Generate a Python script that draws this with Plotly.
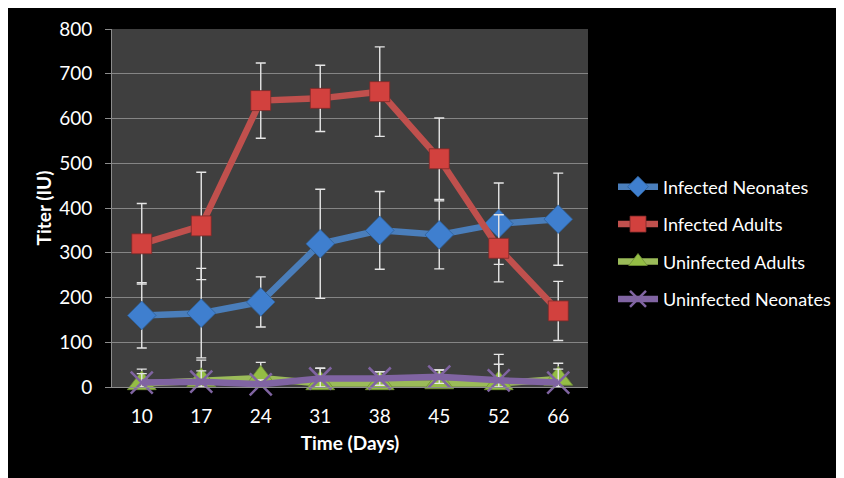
import plotly.graph_objects as go

days = ["10", "17", "24", "31", "38", "45", "52", "66"]

inf_neonates = [160, 165, 190, 320, 350, 340, 365, 375]
inf_neonates_err = [73, 100, 56, 122, 87, 76, 91, 103]

inf_adults = [320, 360, 640, 645, 660, 510, 310, 170]
inf_adults_err = [90, 120, 84, 74, 100, 91, 75, 66]

uninf_adults = [8, 15, 20, 8, 8, 10, 8, 18]
uninf_adults_err = [32, 45, 35, 34, 26, 28, 43, 35]

uninf_neonates = [10, 12, 6, 19, 19, 23, 15, 10]
uninf_neonates_err = [20, 24, 10, 23, 15, 15, 58, 30]

# page is offset by the 8px body margin
W, H = 836, 470
L, R, T, B = 104, 256, 21, 91
pw, ph = W - L - R, H - T - B


def px(xp):
    return (xp - 8 - L) / pw


def py(yp):
    return (H - B - (yp - 8)) / ph


series = [
    ("Infected Neonates", inf_neonates, inf_neonates_err, "#4a7ebb", "#3f7fcf", "diamond", 22, "#2f5f95"),
    ("Infected Adults", inf_adults, inf_adults_err, "#c0504d", "#d2413e", "square", 20, "#7a2a28"),
    ("Uninfected Adults", uninf_adults, uninf_adults_err, "#9bbb59", "#94bd45", "triangle-up", 25, "#6f8f35"),
    ("Uninfected Neonates", uninf_neonates, uninf_neonates_err, "#8064a2", "#8064a2", "x-thin-open", 22, "#8064a2"),
]

fig = go.Figure()
for name, vals, err, lc, mc, sym, size, oc in series:
    minus = [min(e, v) for e, v in zip(err, vals)]
    if sym == "x-thin-open":
        marker = dict(symbol=sym, size=size, color=mc, line=dict(color=mc, width=2.5))
    else:
        marker = dict(symbol=sym, size=size, color=mc, line=dict(color=oc, width=0.8))
    fig.add_trace(go.Scatter(
        x=days, y=vals, name=name, mode="lines+markers",
        line=dict(color=lc, width=6.5),
        marker=marker,
        error_y=dict(type="data", array=err, arrayminus=minus, symmetric=False,
                     color="#e6e6e6", thickness=1.4, width=5),
        legendgroup=name, cliponaxis=False,
    ))

fig.update_layout(
    width=W, height=H,
    margin=dict(l=L, r=R, t=T, b=B, autoexpand=False),
    paper_bgcolor="black",
    plot_bgcolor="#3f3f3f",
    font=dict(family="Lato, Open Sans, sans-serif", color="white", size=19),
    showlegend=True,
    legend=dict(x=px(613), xanchor="left", y=py(243), yanchor="middle",
                font=dict(size=18, color="white"), bgcolor="rgba(0,0,0,0)",
                tracegroupgap=11, itemwidth=40),
    xaxis=dict(type="category", range=[-0.5, len(days) - 0.5], autorange=False,
               showgrid=False, showline=True, linecolor="#8c8c8c",
               linewidth=1, ticks="", ticklabelstandoff=12,
               tickfont=dict(size=19, color="white"),
               title=dict(text="<b>Time (Days)</b>", font=dict(size=19, color="white"), standoff=10)),
    yaxis=dict(range=[0, 800], autorange=False, dtick=100, showgrid=True, gridcolor="#858585", gridwidth=1,
               showline=True, linecolor="#8c8c8c", linewidth=1, ticks="outside",
               ticklen=6, tickcolor="#8c8c8c", zeroline=False, ticklabelstandoff=9,
               tickfont=dict(size=19, color="white"),
               title=dict(text="<b>Titer (IU)</b>", font=dict(size=19, color="white"), standoff=2)),
)

fig.write_html("out.html")
